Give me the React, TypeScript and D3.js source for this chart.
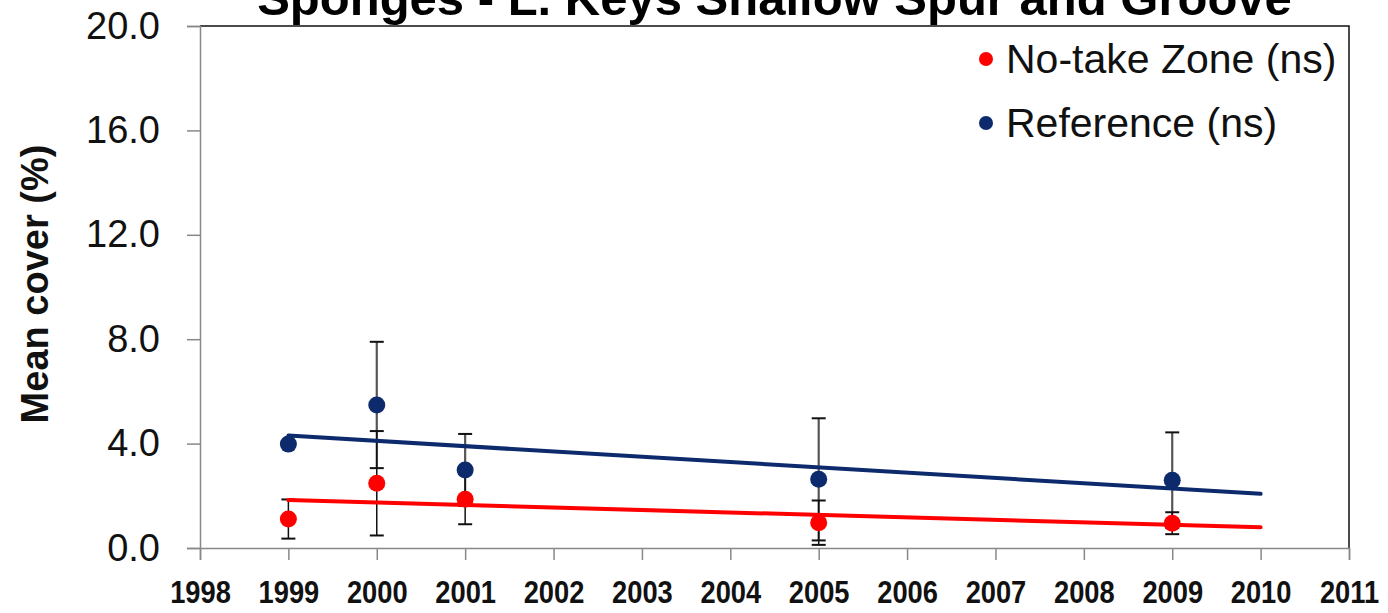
import { useEffect, useRef } from 'react'
import * as d3 from 'd3'

const years = [1999, 2000, 2001, 2005, 2009]
const noTake = [1.11, 2.48, 1.87, 0.97, 0.95]
const noTakeErr = [0.75, 2.0, 0.96, 0.85, 0.42]
const reference = [3.98, 5.48, 2.99, 2.63, 2.6]
const referenceErr = [0, 2.42, 1.38, 2.34, 1.83]
const yTicks = [0, 4, 8, 12, 16, 20]
const xTicks = d3.range(1998, 2012)
const trendEnd = 2010

const FONT = '"Liberation Sans", Arial, sans-serif'
const RED = '#ff0000'
const NAVY = '#0c2a6c'

const WIDTH = 1388
const HEIGHT = 613
const margin = { top: 26, right: 39, bottom: 65, left: 200 }

function fit(xs: number[], ys: number[]) {
  const mx = d3.mean(xs)!
  const my = d3.mean(ys)!
  const sxy = d3.sum(xs, (x, i) => (x - mx) * (ys[i] - my))
  const sxx = d3.sum(xs, x => (x - mx) * (x - mx))
  const slope = sxy / sxx
  return (x: number) => my + slope * (x - mx)
}

export default function App() {
  const svgRef = useRef<SVGSVGElement>(null)

  useEffect(() => {
    if (!svgRef.current) return
    const svg = d3.select(svgRef.current)
    svg.selectAll('*').remove()

    const x = d3.scaleLinear().domain([1998, 2011]).range([margin.left, WIDTH - margin.right])
    const y = d3.scaleLinear().domain([0, 20]).range([HEIGHT - margin.bottom, margin.top])

    svg.append('rect').attr('width', WIDTH).attr('height', HEIGHT).attr('fill', 'white')

    // title, cropped at the top like the source image
    svg.append('text')
      .attr('x', (x(1998) + x(2011)) / 2)
      .attr('y', 15)
      .attr('text-anchor', 'middle')
      .attr('font-family', FONT)
      .attr('font-weight', 'bold')
      .attr('font-size', 49)
      .text('Sponges - L. Keys Shallow Spur and Groove')

    // top + right border
    svg.append('path')
      .attr('d', `M${x(1998)},${y(20)}H${x(2011)}V${y(0)}`)
      .attr('fill', 'none')
      .attr('stroke', '#111')
      .attr('stroke-width', 1.5)

    const yAxis = svg.append('g')
      .attr('transform', `translate(${x(1998)},0)`)
      .call(d3.axisLeft(y).tickValues(yTicks).tickSize(13).tickPadding(27).tickFormat(d3.format('.1f')))
    yAxis.select('.domain').attr('stroke', '#888').attr('stroke-width', 1.5)
    yAxis.selectAll('.tick line').attr('stroke', '#888').attr('stroke-width', 1.5)
    yAxis.selectAll('.tick text')
      .attr('font-family', FONT)
      .attr('font-size', 38)
      .attr('fill', '#111')

    const xAxis = svg.append('g')
      .attr('transform', `translate(0,${y(0)})`)
      .call(d3.axisBottom(x).tickValues(xTicks).tickSize(12).tickPadding(21).tickFormat(d3.format('d')))
    xAxis.select('.domain').attr('stroke', '#888').attr('stroke-width', 1.5)
    xAxis.selectAll('.tick line').attr('stroke', '#888').attr('stroke-width', 1.5)
    xAxis.selectAll('.tick text')
      .attr('font-family', FONT)
      .attr('font-weight', 'bold')
      .attr('font-size', 31)
      .attr('fill', '#111')
      .attr('transform', 'scale(0.88,1)')

    svg.append('text')
      .attr('transform', `translate(48,${(y(0) + y(20)) / 2 - 3}) rotate(-90)`)
      .attr('text-anchor', 'middle')
      .attr('font-family', FONT)
      .attr('font-weight', 'bold')
      .attr('font-size', 38)
      .attr('fill', '#111')
      .text('Mean cover (%)')

    const series = [
      { name: 'Reference (ns)', values: reference, err: referenceErr, color: NAVY, barColor: '#555', barWidth: 2.2 },
      { name: 'No-take Zone (ns)', values: noTake, err: noTakeErr, color: RED, barColor: '#111', barWidth: 1.5 },
    ]

    // error bars
    series.forEach(s => {
      const g = svg.append('g')
      years.forEach((yr, i) => {
        const lo = y(s.values[i] - s.err[i])
        const hi = y(s.values[i] + s.err[i])
        const cx = x(yr)
        g.append('line').attr('x1', cx).attr('x2', cx).attr('y1', lo).attr('y2', hi)
          .attr('stroke', s.barColor).attr('stroke-width', s.barWidth)
        ;[lo, hi].forEach(v => {
          g.append('line').attr('x1', cx - 7).attr('x2', cx + 7).attr('y1', v).attr('y2', v)
            .attr('stroke', '#111').attr('stroke-width', 2)
        })
      })
    })

    // linear trend lines
    series.forEach(s => {
      const f = fit(years, s.values)
      svg.append('line')
        .attr('x1', x(years[0])).attr('y1', y(f(years[0])))
        .attr('x2', x(trendEnd)).attr('y2', y(f(trendEnd)))
        .attr('stroke', s.color)
        .attr('stroke-width', 4)
        .attr('stroke-linecap', 'round')
    })

    // points
    series.forEach(s => {
      svg.append('g').selectAll('circle')
        .data(years)
        .enter()
        .append('circle')
        .attr('cx', d => x(d))
        .attr('cy', (d, i) => y(s.values[i]))
        .attr('r', 8.5)
        .attr('fill', s.color)
    })

    // legend
    const legend = [series[1], series[0]]
    legend.forEach((s, i) => {
      const cy = 59 + i * 64
      svg.append('circle').attr('cx', 986).attr('cy', cy).attr('r', 7).attr('fill', s.color)
      svg.append('text')
        .attr('x', 1006)
        .attr('y', cy + 14)
        .attr('font-family', FONT)
        .attr('font-size', 41)
        .attr('fill', '#111')
        .text(s.name)
    })
  }, [])

  return (
    <svg
      ref={svgRef}
      width={WIDTH}
      height={HEIGHT}
      style={{ position: 'absolute', left: 0, top: 0 }}
    />
  )
}
